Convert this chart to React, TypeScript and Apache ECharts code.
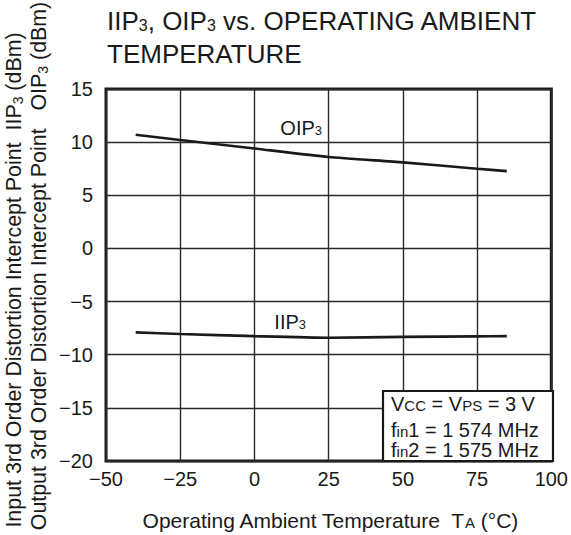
import React, { useEffect, useRef } from "react";
import * as echarts from "echarts";

const temps = [-40, -25, 0, 25, 50, 75, 85];
const oip3 = [10.7, 10.2, 9.4, 8.6, 8.1, 7.5, 7.27];
const iip3 = [-7.9, -8.05, -8.25, -8.4, -8.32, -8.27, -8.25];
const xTicks = { min: -50, max: 100, interval: 25 };
const yTicks = { min: -20, max: 15, interval: 5 };

const FONT = "Liberation Sans, Arial, Helvetica, sans-serif";
const INK = "#1a1a1a";

const fmt = (v: number) => (v < 0 ? "\u2212" + Math.abs(v) : String(v));

// line height that puts a bottom-aligned small token on the main baseline (+d px)
const lh = (fs1: number, fs2: number, d: number) => 0.694 * fs1 + 0.306 * fs2 + 2 * d;

export default function App() {
  const ref = useRef<HTMLDivElement>(null);
  useEffect(() => {
    if (!ref.current) return;
    const chart = echarts.init(ref.current, null, { renderer: "svg" });

    const subRich = (fs: number) => ({
      fontSize: fs,
      lineHeight: fs,
      verticalAlign: "bottom",
      fontFamily: FONT,
      fill: INK,
      color: INK,
    });

    const mkData = (ys: number[], labelIdx: number, label: any) =>
      temps.map((t, i) =>
        i === labelIdx ? { value: [t, ys[i]], label } : { value: [t, ys[i]] }
      );

    const seriesLabel = (name: string, offset: number[]) => ({
      show: true,
      position: "inside",
      offset,
      formatter: name + "{s|3}",
      fontSize: 20,
      lineHeight: lh(20, 13, 0.5),
      fontFamily: FONT,
      color: INK,
      rich: { s: subRich(13) },
    });

    const option: any = {
      animation: false,
      grid: {
        left: 106,
        top: 89,
        right: 18,
        bottom: 74,
        show: true,
        borderColor: INK,
        borderWidth: 3,
        backgroundColor: "transparent",
      },
      xAxis: {
        type: "value",
        min: xTicks.min,
        max: xTicks.max,
        interval: xTicks.interval,
        axisLine: { show: false },
        axisTick: { show: false },
        splitLine: { show: true, lineStyle: { color: "#2a2a2a", width: 1.4 } },
        axisLabel: {
          formatter: fmt,
          fontSize: 20,
          fontFamily: FONT,
          color: INK,
          margin: 8,
        },
      },
      yAxis: {
        type: "value",
        min: yTicks.min,
        max: yTicks.max,
        interval: yTicks.interval,
        axisLine: { show: false },
        axisTick: { show: false },
        splitLine: { show: true, lineStyle: { color: "#2a2a2a", width: 1.4 } },
        axisLabel: {
          formatter: fmt,
          fontSize: 20,
          fontFamily: FONT,
          color: INK,
          margin: 13,
        },
      },
      series: [
        {
          type: "line",
          name: "OIP3",
          symbol: "circle",
          symbolSize: 0,
          smooth: 0.2,
          lineStyle: { color: INK, width: 2.6 },
          itemStyle: { color: INK },
          label: { show: false },
          data: mkData(oip3, 3, seriesLabel("OIP", [-27.5, -29])),
        },
        {
          type: "line",
          name: "IIP3",
          symbol: "circle",
          symbolSize: 0,
          smooth: 0.2,
          lineStyle: { color: INK, width: 2.6 },
          itemStyle: { color: INK },
          label: { show: false },
          data: mkData(iip3, 3, seriesLabel("IIP", [-38.5, -16])),
        },
      ],
      graphic: [
        {
          type: "text",
          left: 107,
          top: 7.8,
          style: {
            text: "IIP{s|3}, OIP{s|3} vs. OPERATING AMBIENT",
            fontSize: 26,
            lineHeight: lh(26, 16, 1),
            fontFamily: FONT,
            fill: INK,
            rich: { s: subRich(16) },
          },
        },
        {
          type: "text",
          left: 107,
          top: 38.5,
          style: {
            text: "TEMPERATURE",
            fontSize: 26,
            lineHeight: 30,
            fontFamily: FONT,
            fill: INK,
          },
        },
        {
          type: "text",
          x: 14,
          y: 280,
          rotation: Math.PI / 2,
          style: {
            text: "Input 3rd Order Distortion Intercept Point  IIP{s|3} (dBm)",
            fontSize: 21.4,
            lineHeight: lh(21.4, 14, 1.5),
            fontFamily: FONT,
            fill: INK,
            align: "center",
            verticalAlign: "middle",
            rich: { s: subRich(14) },
          },
        },
        {
          type: "text",
          x: 39,
          y: 266,
          rotation: Math.PI / 2,
          style: {
            text: "Output 3rd Order Distortion Intercept Point   OIP{s|3} (dBm)",
            fontSize: 21.4,
            lineHeight: lh(21.4, 14, 1.5),
            fontFamily: FONT,
            fill: INK,
            align: "center",
            verticalAlign: "middle",
            rich: { s: subRich(14) },
          },
        },
        {
          type: "text",
          x: 330,
          y: 520,
          style: {
            text: "Operating Ambient Temperature  T{s|A} (\u00b0C)",
            fontSize: 21,
            lineHeight: lh(21, 15, 0),
            fontFamily: FONT,
            fill: INK,
            align: "center",
            verticalAlign: "middle",
            rich: { s: subRich(15) },
          },
        },
        {
          type: "rect",
          z: 100,
          shape: { x: 383, y: 391, width: 170, height: 70 },
          style: { fill: "#ffffff", stroke: INK, lineWidth: 2.2 },
        },
        {
          type: "text",
          z: 101,
          x: 391,
          y: 403.5,
          style: {
            text: "V{s|CC} = V{s|PS} = 3 V",
            fontSize: 20,
            lineHeight: lh(20, 15, 0),
            fontFamily: FONT,
            fill: INK,
            align: "left",
            verticalAlign: "middle",
            rich: { s: subRich(15) },
          },
        },
        {
          type: "text",
          z: 101,
          x: 391,
          y: 429.5,
          style: {
            text: "f{s|in}1 = 1 574 MHz",
            fontSize: 20,
            lineHeight: lh(20, 15, 0),
            fontFamily: FONT,
            fill: INK,
            align: "left",
            verticalAlign: "middle",
            rich: { s: subRich(15) },
          },
        },
        {
          type: "text",
          z: 101,
          x: 391,
          y: 449.5,
          style: {
            text: "f{s|in}2 = 1 575 MHz",
            fontSize: 20,
            lineHeight: lh(20, 15, 0),
            fontFamily: FONT,
            fill: INK,
            align: "left",
            verticalAlign: "middle",
            rich: { s: subRich(15) },
          },
        },
      ],
    };
    chart.setOption(option);
    return () => chart.dispose();
  }, []);
  return (
    <div
      ref={ref}
      style={{ position: "absolute", left: 0, top: 0, width: 571, height: 535, background: "#fff" }}
    />
  );
}
